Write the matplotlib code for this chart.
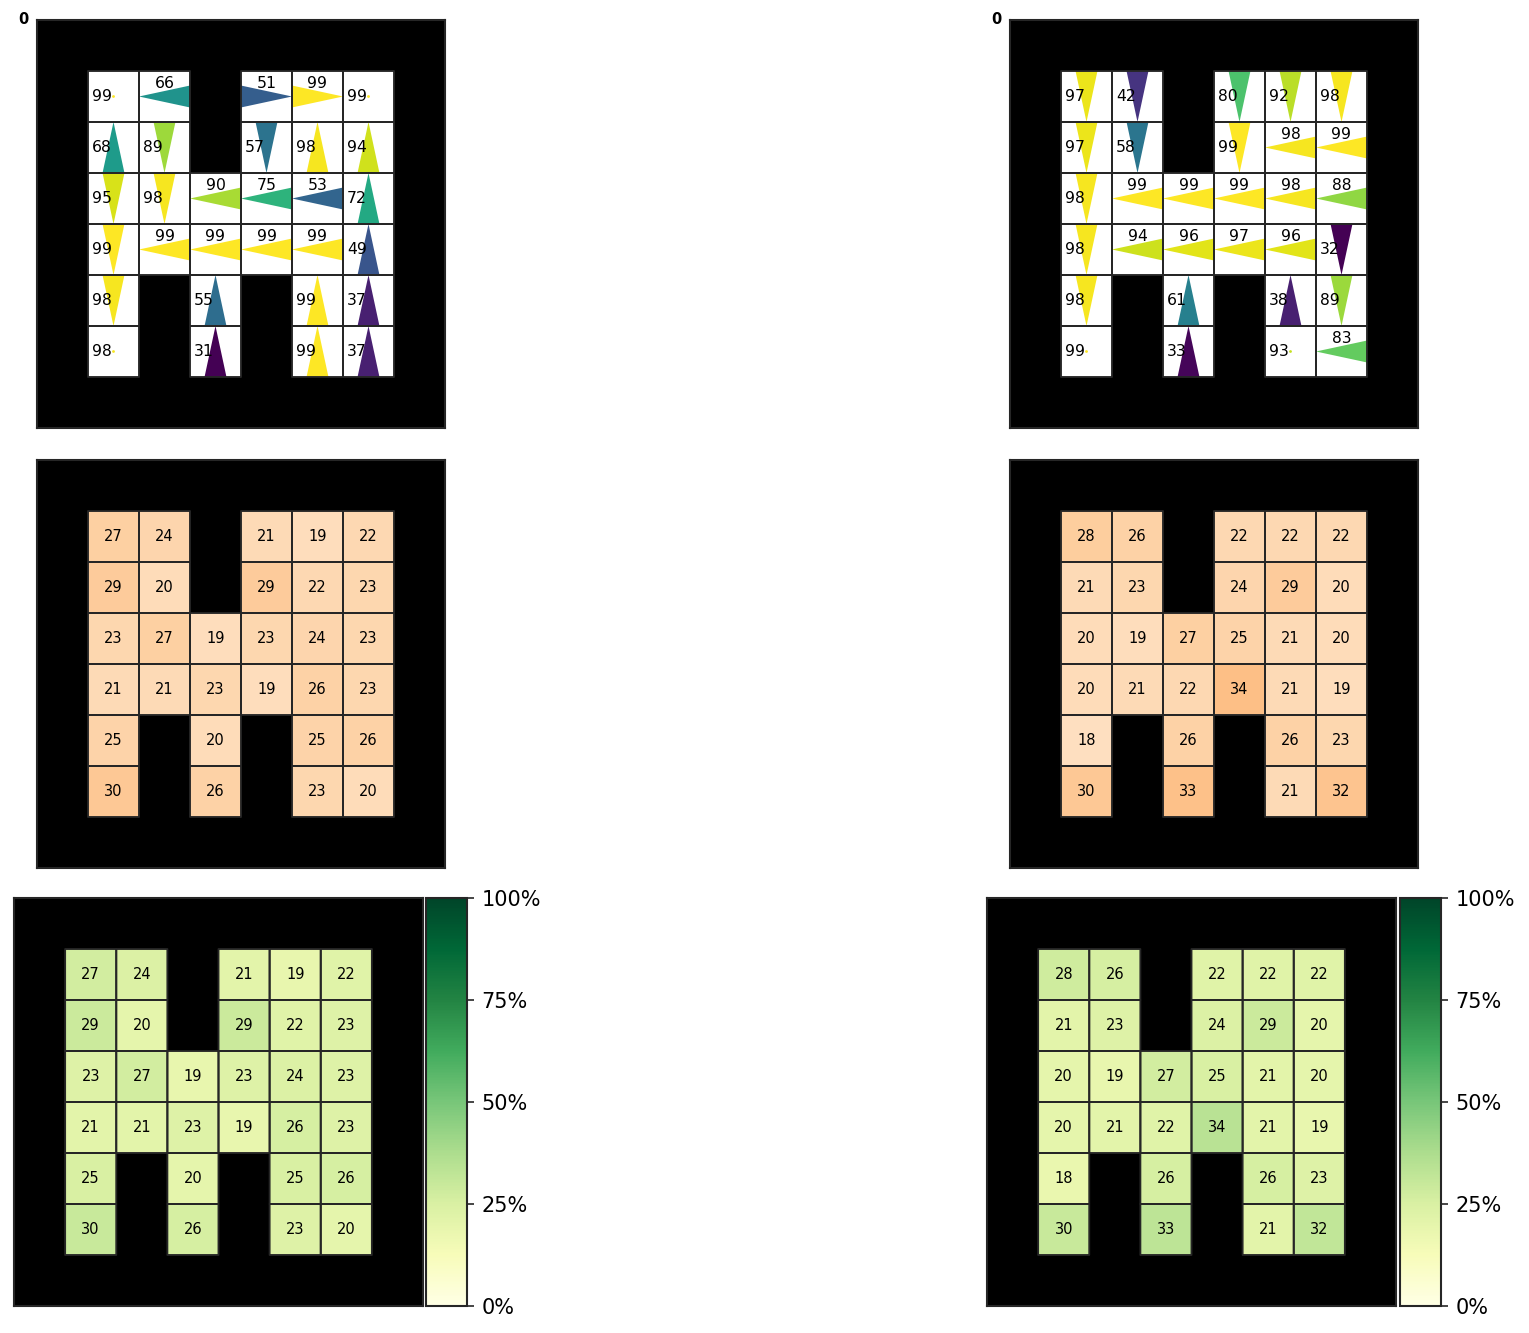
import numpy as np
import matplotlib
matplotlib.use("Agg")
import matplotlib.pyplot as plt
from matplotlib.colors import ListedColormap
from matplotlib.ticker import PercentFormatter

W = None  # wall marker

# policy probabilities (%) and greedy directions, inner 6x6 grid
pol_left = [
    [99, 66, W, 51, 99, 99],
    [68, 89, W, 57, 98, 94],
    [95, 98, 90, 75, 53, 72],
    [99, 99, 99, 99, 99, 49],
    [98, W, 55, W, 99, 37],
    [98, W, 31, W, 99, 37],
]
dir_left = [
    ["S", "L", W, "R", "R", "S"],
    ["U", "D", W, "D", "U", "U"],
    ["D", "D", "L", "L", "L", "U"],
    ["D", "L", "L", "L", "L", "U"],
    ["D", W, "U", W, "U", "U"],
    ["S", W, "U", W, "U", "U"],
]
pol_right = [
    [97, 42, W, 80, 92, 98],
    [97, 58, W, 99, 98, 99],
    [98, 99, 99, 99, 98, 88],
    [98, 94, 96, 97, 96, 32],
    [98, W, 61, W, 38, 89],
    [99, W, 33, W, 93, 83],
]
dir_right = [
    ["D", "D", W, "D", "D", "D"],
    ["D", "D", W, "D", "L", "L"],
    ["D", "L", "L", "L", "L", "L"],
    ["D", "L", "L", "L", "L", "D"],
    ["D", W, "U", W, "U", "D"],
    ["S", W, "U", W, "S", "L"],
]
# visitation (%) heatmaps
heat_left = [
    [27, 24, W, 21, 19, 22],
    [29, 20, W, 29, 22, 23],
    [23, 27, 19, 23, 24, 23],
    [21, 21, 23, 19, 26, 23],
    [25, W, 20, W, 25, 26],
    [30, W, 26, W, 23, 20],
]
heat_right = [
    [28, 26, W, 22, 22, 22],
    [21, 23, W, 24, 29, 20],
    [20, 19, 27, 25, 21, 20],
    [20, 21, 22, 34, 21, 19],
    [18, W, 26, W, 26, 23],
    [30, W, 33, W, 21, 32],
]
cbar_ticks = [0, 0.25, 0.5, 0.75, 1.0]

DIRS = {"L": (-1, 0), "R": (1, 0), "U": (0, -1), "D": (0, 1), "S": (0, 0)}
N = 8
GRID_C = "#262626"

W_px, H_px, DPI = 1529, 1333, 150
fig = plt.figure(figsize=(W_px / DPI, H_px / DPI), dpi=DPI)


def px_axes(x0, y0, x1, y1):
    return fig.add_axes([x0 / W_px, 1 - y1 / H_px, (x1 - x0) / W_px, (y1 - y0) / H_px])


def full_grid(inner):
    g = np.full((N, N), np.nan)
    for r, row in enumerate(inner):
        for c, v in enumerate(row):
            if v is not None:
                g[r + 1, c + 1] = v
    return g


def draw_base(ax, g):
    edges = np.arange(N + 1)
    ax.set_facecolor("black")
    free = np.ma.masked_invalid(g)
    # outlines of free cells, drawn on top of arrows
    ax.pcolor(edges, edges, free, facecolor="none", edgecolors=GRID_C,
              linewidth=0.9, zorder=4)


def style(ax):
    ax.set_xlim(0, N)
    ax.set_ylim(N, 0)
    ax.set_xticks([])
    ax.set_yticks([])
    for s in ax.spines.values():
        s.set_color(GRID_C)
        s.set_linewidth(1.0)
        s.set_zorder(6)


def policy_panel(ax, pol, dirs):
    g = full_grid(pol)
    draw_base(ax, g)
    ax.pcolormesh(np.arange(N + 1), np.arange(N + 1), np.ma.masked_invalid(g),
                  cmap=ListedColormap(["white"]), zorder=1)
    X, Y, U, V, C = [], [], [], [], []
    for r, row in enumerate(pol):
        for c, v in enumerate(row):
            if v is None:
                continue
            d = dirs[r][c]
            dx, dy = DIRS[d]
            X.append(c + 1.5); Y.append(r + 1.5)
            U.append(dx); V.append(dy); C.append(v)
            if d in ("L", "R"):
                ax.text(c + 1.5, r + 1.25, str(v), ha="center", va="center", fontsize=7.5, zorder=5)
            else:
                ax.text(c + 1.27, r + 1.5, str(v), ha="center", va="center", fontsize=7.5, zorder=5)
    ax.quiver(X, Y, U, V, C, cmap="viridis", pivot="middle", angles="xy",
              scale_units="xy", scale=1, units="xy", width=0.06,
              headwidth=8.6, headlength=20, headaxislength=20, zorder=3)
    style(ax)
    ax.text(-0.02, 1.0, "0", transform=ax.transAxes, ha="right", va="center",
            fontsize=7, fontweight="bold")


def heat_panel(ax, heat, cmap_name, vmax):
    g = full_grid(heat)
    draw_base(ax, g)
    m = ax.pcolormesh(np.arange(N + 1), np.arange(N + 1), np.ma.masked_invalid(g),
                      cmap=cmap_name, vmin=0, vmax=vmax, zorder=2)
    for r, row in enumerate(heat):
        for c, v in enumerate(row):
            if v is not None:
                ax.text(c + 1.5, r + 1.5, str(v), ha="center", va="center", fontsize=7, zorder=5)
    style(ax)
    return m


ax1 = px_axes(37, 20, 445, 428)
ax2 = px_axes(1010, 20, 1418, 428)
policy_panel(ax1, pol_left, dir_left)
policy_panel(ax2, pol_right, dir_right)

ax3 = px_axes(37, 460, 445, 868)
ax4 = px_axes(1010, 460, 1418, 868)
heat_panel(ax3, heat_left, "Oranges", 108)
heat_panel(ax4, heat_right, "Oranges", 108)

ax5 = px_axes(14, 898, 423, 1306)
ax6 = px_axes(987, 898, 1396, 1306)
m5 = heat_panel(ax5, heat_left, "YlGn", 100)
m6 = heat_panel(ax6, heat_right, "YlGn", 100)

for m, (x0, x1) in ((m5, (426, 467)), (m6, (1400, 1441))):
    cax = px_axes(x0, 898, x1, 1306)
    m_pct = plt.cm.ScalarMappable(norm=plt.Normalize(0, 1), cmap=m.get_cmap())
    cb = fig.colorbar(m_pct, cax=cax, ticks=cbar_ticks, format=PercentFormatter(1.0, decimals=0))
    cb.outline.set_edgecolor(GRID_C)
    cb.outline.set_linewidth(1.0)
    cax.tick_params(labelsize=10, color=GRID_C)

fig.savefig("out.png", dpi=DPI)
